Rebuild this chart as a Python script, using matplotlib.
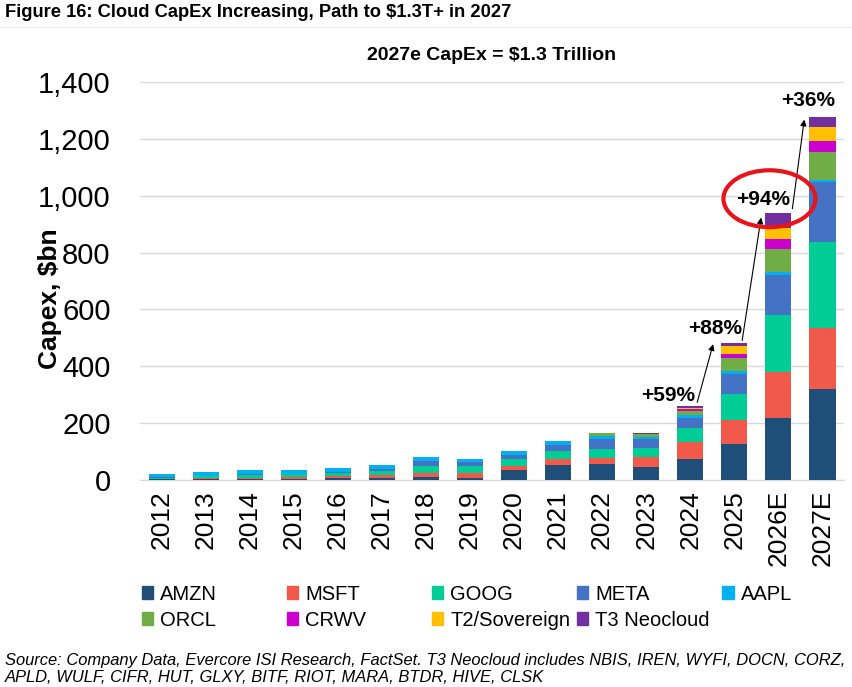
import matplotlib.pyplot as plt
from matplotlib.patches import Ellipse, Patch
import numpy as np

plt.rcParams['font.family'] = ['Liberation Sans', 'DejaVu Sans']

years = ['2012', '2013', '2014', '2015', '2016', '2017', '2018', '2019',
         '2020', '2021', '2022', '2023', '2024', '2025', '2026E', '2027E']
amzn = [4, 3.5, 5, 4.6, 6.7, 8, 12, 9, 35, 55, 56, 45, 75, 126, 219, 319]
msft = [2, 3, 4, 6, 8, 9, 12, 15, 14, 20, 21, 35, 58, 84, 160, 217]
goog = [3, 7, 10, 10, 10, 14, 26, 25, 26, 28, 34, 32, 49, 93, 201, 302]
meta = [1, 1.5, 2, 2.5, 4.5, 8, 17, 15, 13, 20, 34, 32, 37, 71, 142, 211]
aapl = [13, 13, 14, 13, 13, 13, 13, 11, 14, 14, 12, 9, 11, 10, 11, 7]
orcl = [0, 0, 0, 1, 1, 0, 0, 0, 0, 0, 9, 8, 14, 46, 80, 96]
crwv = [0, 0, 0, 0, 0, 0, 0, 0, 0, 0, 0, 2, 6, 12, 35, 41]
t2 = [0, 0, 0, 0, 0, 0, 0, 0, 0, 0, 0, 0, 4, 29, 37, 49]
t3 = [0, 0, 0, 0, 0, 0, 0, 0, 0, 0, 0, 3, 6, 12, 54, 35]

series = ['AMZN', 'MSFT', 'GOOG', 'META', 'AAPL', 'ORCL', 'CRWV', 'T2/Sovereign', 'T3 Neocloud']
colors = ['#1F4E79', '#F15A4A', '#00CC96', '#4472C4', '#00B0F0',
          '#70AD47', '#CC00CC', '#FFC000', '#7030A0']
growth_labels = ['+59%', '+88%', '+94%', '+36%']

values = np.array([amzn, msft, goog, meta, aapl, orcl, crwv, t2, t3], dtype=float)
totals = values.sum(axis=0)
x = np.arange(len(years))

fig = plt.figure(figsize=(8.52, 6.87), dpi=100)
ax = fig.add_axes([0.164, 0.301, 0.827, 0.580])

bottom = np.zeros(len(years))
for vals, name, c in zip(values, series, colors):
    ax.bar(x, vals, 0.6, bottom=bottom, color=c, label=name, zorder=3)
    bottom += vals

ax.set_ylim(0, 1400)
ax.set_xlim(-0.5, len(years) - 0.5)
ax.set_yticks(np.arange(0, 1401, 200))
ax.set_yticklabels([f'{v:,}' for v in range(0, 1401, 200)], fontsize=21)
ax.set_xticks(x)
ax.set_xticklabels(years, rotation=90, fontsize=19)
ax.tick_params(axis='y', length=0, pad=21)
ax.tick_params(axis='x', length=0, pad=7)
ax.grid(axis='y', color='#d9d9d9', lw=1, zorder=0)
for s in ['top', 'right', 'left']:
    ax.spines[s].set_visible(False)
ax.spines['bottom'].set_color('#d9d9d9')
ax.set_ylabel('Capex, $bn', fontsize=19, fontweight='bold')
ax.yaxis.set_label_coords(-0.111, 0.455)

# growth annotations on the last four bars
i0 = len(years) - 4
txt_off = [(-0.5, 38), (-0.43, 50), (-0.34, 47), (-0.32, 56)]
for k, lab in enumerate(growth_labels):
    i = i0 + k
    dx, dy = txt_off[k]
    ax.text(i + dx, totals[i] + dy, lab, ha='center', va='center',
            fontsize=15, fontweight='bold', zorder=5)
arr = [((0.16, 14), (-0.48, -5)), ((0.18, 8), (-0.39, -16)), ((0.32, 15), (-0.41, -10))]
for k, (s, e) in enumerate(arr):
    i = i0 + k
    ax.annotate('', xy=(i + 1 + e[0], totals[i + 1] + e[1]),
                xytext=(i + s[0], totals[i] + s[1]),
                arrowprops=dict(arrowstyle='-|>', color='black', lw=0.8,
                                mutation_scale=9, shrinkA=0, shrinkB=0), zorder=6)
ie = len(years) - 2
ax.add_patch(Ellipse((ie - 0.2, totals[ie] + 50), 2.09, 200, fill=False,
                     edgecolor='#E8141B', lw=3, zorder=7, clip_on=False))

ax.set_title('2027e CapEx = $1.3 Trillion', fontsize=14, fontweight='bold', pad=16)

fig.text(0.006, 0.982, 'Figure 16: Cloud CapEx Increasing, Path to $1.3T+ in 2027',
         fontsize=13.2, fontweight='bold', va='center')
fig.add_artist(plt.Line2D([0.0, 1.0], [0.961, 0.961], color='#eeeeee', lw=1))

# legend laid out in fixed-pitch columns, two rows
col_x = [0.167, 0.337, 0.507, 0.677, 0.848]
cols = [[0, 5], [1, 6], [2, 7], [3, 8], [4]]
for cx, idx in zip(col_x, cols):
    fig.legend([Patch(color=colors[j]) for j in idx], [series[j] for j in idx],
               loc='upper left', bbox_to_anchor=(cx, 0.149), frameon=False,
               fontsize=14.5, handlelength=0.55, handleheight=0.55,
               handletextpad=0.35, labelspacing=0.35, borderpad=0, borderaxespad=0)

fig.text(0.006, 0.026,
         'Source: Company Data, Evercore ISI Research, FactSet. T3 Neocloud includes NBIS, IREN, WYFI, DOCN, CORZ,\n'
         'APLD, WULF, CIFR, HUT, GLXY, BITF, RIOT, MARA, BTDR, HIVE, CLSK',
         fontsize=11.9, style='italic', va='center', linespacing=1.2)

fig.savefig('out.png', dpi=100)
